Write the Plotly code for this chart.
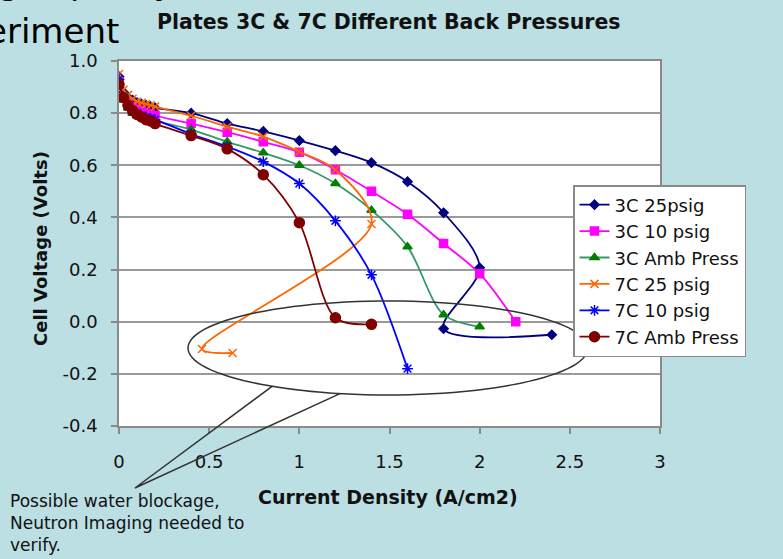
import numpy as np
import plotly.graph_objects as go

# ---------------- data ----------------
x_low = [0, 0.025, 0.05, 0.075, 0.1, 0.125, 0.15, 0.175, 0.2]

x_3c25 = x_low + [0.4, 0.6, 0.8, 1.0, 1.2, 1.4, 1.6, 1.8, 2.0, 1.8, 2.4]
v_3c25 = [0.94, 0.88, 0.86, 0.85, 0.84, 0.835, 0.83, 0.825, 0.82,
          0.80, 0.76, 0.73, 0.695, 0.656, 0.61, 0.537, 0.418, 0.207, -0.027, -0.05]

x_3c10 = x_low + [0.4, 0.6, 0.8, 1.0, 1.2, 1.4, 1.6, 1.8, 2.0, 2.2]
v_3c10 = [0.92, 0.86, 0.84, 0.825, 0.815, 0.81, 0.80, 0.795, 0.79,
          0.76, 0.727, 0.69, 0.65, 0.583, 0.50, 0.412, 0.30, 0.184, 0.0]

x_3camb = x_low + [0.4, 0.6, 0.8, 1.0, 1.2, 1.4, 1.6, 1.8, 2.0]
v_3camb = [0.93, 0.85, 0.82, 0.80, 0.79, 0.785, 0.78, 0.775, 0.77,
           0.737, 0.69, 0.648, 0.60, 0.53, 0.428, 0.288, 0.027, -0.019]

x_7c25 = x_low + [0.4, 0.6, 0.8, 1.0, 1.2, 1.4, 0.46, 0.63]
v_7c25 = [0.95, 0.89, 0.87, 0.855, 0.845, 0.84, 0.835, 0.83, 0.825,
          0.79, 0.748, 0.71, 0.652, 0.583, 0.375, -0.105, -0.12]

x_7c10 = x_low + [0.4, 0.6, 0.8, 1.0, 1.2, 1.4, 1.6]
v_7c10 = [0.93, 0.86, 0.83, 0.81, 0.80, 0.79, 0.785, 0.78, 0.775,
          0.72, 0.672, 0.614, 0.53, 0.387, 0.18, -0.18]

x_7camb = x_low + [0.4, 0.6, 0.8, 1.0, 1.2, 1.4]
v_7camb = [0.91, 0.86, 0.83, 0.81, 0.795, 0.785, 0.775, 0.77, 0.76,
           0.714, 0.663, 0.564, 0.38, 0.015, -0.01]

series_names = ["3C 25psig", "3C 10 psig", "3C Amb Press",
                "7C 25 psig", "7C 10 psig", "7C Amb Press"]

x_ticks = [0, 0.5, 1, 1.5, 2, 2.5, 3]
x_tick_labels = ["0", "0.5", "1", "1.5", "2", "2.5", "3"]
y_ticks = [-0.4, -0.2, 0.0, 0.2, 0.4, 0.6, 0.8, 1.0]
y_tick_labels = ["-0.4", "-0.2", "0.0", "0.2", "0.4", "0.6", "0.8", "1.0"]

# ---------------- styling ----------------
W, H = 783, 559
ML, MR, MT, MB = 119, 123, 61, 133
PW, PH = W - ML - MR, H - MT - MB
BG = "#bbdfe3"
FONT = "DejaVu Sans"


def px2x(px):
    return (px - ML) / PW


def py2y(py):
    return (H - MB - py) / PH


styles = [
    dict(color="#000080", lc="#000080", symbol="diamond", size=7),
    dict(color="#ff00ff", lc="#ff00ff", symbol="square", size=8),
    dict(color="#008000", lc="#339966", symbol="triangle-up", size=8),
    dict(color="#ff6600", lc="#ff6600", symbol="x-thin-open", size=8),
    dict(color="#0000ff", lc="#0000ff", symbol="asterisk-open", size=9),
    dict(color="#800000", lc="#800000", symbol="circle", size=10),
]
xs = [x_3c25, x_3c10, x_3camb, x_7c25, x_7c10, x_7camb]
vs = [v_3c25, v_3c10, v_3camb, v_7c25, v_7c10, v_7camb]

fig = go.Figure()
for name, x, v, st in zip(series_names, xs, vs, styles):
    fig.add_trace(go.Scatter(
        x=x, y=v, name=name, mode="lines+markers",
        line=dict(color=st["lc"], width=1.8, shape="spline", smoothing=0.9),
        marker=dict(color=st["color"], symbol=st["symbol"], size=st["size"],
                    line=dict(color=st["color"], width=1.5)),
    ))

axis_common = dict(
    showline=True, linecolor="#8a8a8a", linewidth=1.5, mirror=True,
    ticks="outside", ticklen=6, tickcolor="#8a8a8a", tickwidth=1.5,
    tickfont=dict(family=FONT, size=18, color="#111111"),
    zeroline=False,
)
fig.update_xaxes(range=[0, 3], tickvals=x_ticks, ticktext=x_tick_labels,
                 showgrid=False, ticklabelstandoff=13, **axis_common)
fig.update_yaxes(range=[-0.4, 1.0], tickvals=y_ticks, ticktext=y_tick_labels,
                 showgrid=True, gridcolor="#9a9a9a", gridwidth=1.5,
                 ticklabelstandoff=10, **axis_common)

# callout (ellipse with tail) in paper coordinates
cx, cy, rx, ry = 388, 348, 200, 47
a_start = np.arctan2((393.6 - cy) / ry, (340 - cx) / rx)
a_end = np.arctan2((386 - cy) / ry, (273 - cx) / rx) + 2 * np.pi
angs = np.linspace(a_start, a_end, 120)
pts = [(cx + rx * np.cos(a), cy + ry * np.sin(a)) for a in angs]
pts += [(135, 488), (340, 393.6)]
path = "M " + " L ".join(f"{px2x(p[0]):.5f},{py2y(p[1]):.5f}" for p in pts)
fig.add_shape(type="path", path=path, xref="paper", yref="paper",
              line=dict(color="#333333", width=1.5))

ann = []
ann.append(dict(text="<b>Plates 3C &amp; 7C Different Back Pressures</b>",
                x=px2x(389), y=py2y(22), xref="paper", yref="paper",
                showarrow=False, xanchor="center", yanchor="middle",
                font=dict(family=FONT, size=20.5, color="#111111")))
ann.append(dict(text="<b>Current Density (A/cm2)</b>",
                x=px2x(388), y=py2y(497), xref="paper", yref="paper",
                showarrow=False, xanchor="center", yanchor="middle",
                font=dict(family=FONT, size=19, color="#111111")))
ann.append(dict(text="<b>Cell Voltage (Volts)</b>", textangle=-90,
                x=px2x(40), y=py2y(249), xref="paper", yref="paper",
                showarrow=False, xanchor="center", yanchor="middle",
                font=dict(family=FONT, size=18, color="#111111")))
ann.append(dict(text="Possible water blockage,<br>Neutron Imaging needed to<br>verify.",
                x=px2x(8), y=py2y(489), xref="paper", yref="paper",
                showarrow=False, xanchor="left", yanchor="top", align="left",
                font=dict(family=FONT, size=17, color="#111111")))
ann.append(dict(text="eriment",
                x=px2x(121), y=py2y(31), xref="paper", yref="paper",
                showarrow=False, xanchor="right", yanchor="middle",
                font=dict(family=FONT, size=34, color="#000000")))
ann.append(dict(text="g capacity)",
                x=px2x(-4), y=py2y(-17.5), xref="paper", yref="paper",
                showarrow=False, xanchor="left", yanchor="middle",
                font=dict(family=FONT, size=34, color="#000000")))

fig.update_layout(
    width=W, height=H,
    margin=dict(l=ML, r=MR, t=MT, b=MB),
    paper_bgcolor=BG, plot_bgcolor="#ffffff",
    font=dict(family=FONT, color="#111111"),
    annotations=ann,
    showlegend=True,
    legend=dict(x=px2x(573), y=py2y(185), xanchor="left", yanchor="top",
                bgcolor="#ffffff", bordercolor="#8a8a8a", borderwidth=1.5,
                font=dict(family=FONT, size=18, color="#111111"),
                itemwidth=30, tracegroupgap=0),
)

fig.write_html("out.html", config={"displayModeBar": False})

# remove the default page margin so the figure sits at the window's corner
with open("out.html", "r", encoding="utf-8") as f:
    html = f.read()
html = html.replace("<head>", "<head><style>html,body{margin:0;padding:0;overflow:hidden;}</style>", 1)
with open("out.html", "w", encoding="utf-8") as f:
    f.write(html)
